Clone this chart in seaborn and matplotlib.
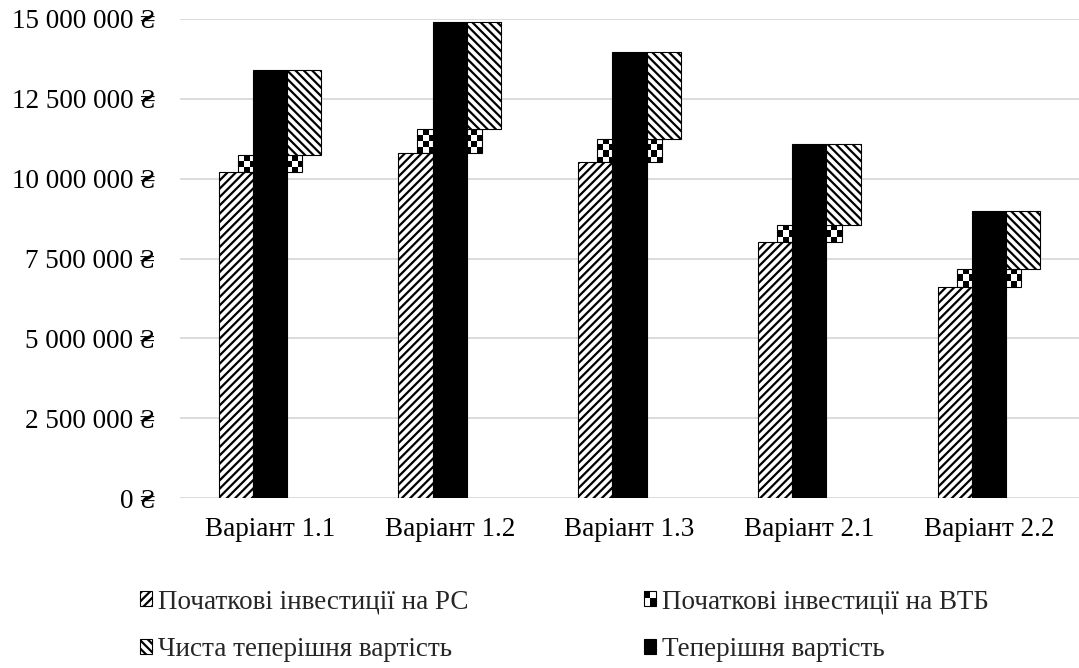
import numpy as np
import pandas as pd
import matplotlib
matplotlib.use("Agg")
import matplotlib.pyplot as plt
import seaborn as sns
from matplotlib.patches import Rectangle, Patch
from matplotlib.legend_handler import HandlerPatch
from matplotlib.ticker import FuncFormatter, MultipleLocator

# ---- data (UAH) ----
variants = ["Варіант 1.1", "Варіант 1.2", "Варіант 1.3", "Варіант 2.1", "Варіант 2.2"]
invest_pc = [10_210_000, 10_800_000, 10_510_000, 8_010_000, 6_600_000]
invest_vtb = [530_000, 750_000, 730_000, 540_000, 570_000]
npv = [2_660_000, 3_350_000, 2_740_000, 2_530_000, 1_830_000]
present_value = [13_400_000, 14_900_000, 13_980_000, 11_080_000, 9_000_000]

lbl_pc = "Початкові інвестиції на РС"
lbl_vtb = "Початкові інвестиції на ВТБ"
lbl_npv = "Чиста теперішня вартість"
lbl_pv = "Теперішня вартість"

sns.set_theme(style="white")
plt.rcParams["font.family"] = ["Liberation Serif", "DejaVu Serif"]
plt.rcParams["hatch.linewidth"] = 1.6
FS = 19.5

fig = plt.figure(figsize=(10.79, 6.68), dpi=100)
ax = fig.add_axes([180 / 1079, 1 - 498 / 668, 1 - 180 / 1079, (498 - 19) / 668])

df = pd.DataFrame({
    "variant": variants * 3,
    "series": [lbl_pc] * 5 + [lbl_pv] * 5 + [lbl_npv] * 5,
    "value": invest_pc + present_value + npv,
})

sns.barplot(data=df, x="variant", y="value", hue="series",
            hue_order=[lbl_pc, lbl_pv, lbl_npv],
            palette=["white", "black", "white"], width=0.57,
            edgecolor="black", linewidth=0.8, saturation=1,
            legend=False, ax=ax)

# hatching and floating NPV segments on top of both investments
for p in ax.containers[0]:
    p.set_hatch("////")
for i, p in enumerate(ax.containers[2]):
    p.set_hatch("\\\\\\\\")
    p.set_y(invest_pc[i] + invest_vtb[i])
    p.set_height(npv[i])

ax.set_xlim(-0.5, 4.5)
ax.set_ylim(0, 15_000_000)

# checkerboard segments for the ВТБ investment (behind the black bar)
bbox = ax.get_window_extent()
sq = 6.0
cell_x = sq * 5.0 / bbox.width
cell_y = sq * 15_000_000 / bbox.height
vtb_w = 0.36
for i in range(len(variants)):
    x0 = i - vtb_w / 2
    y0 = invest_pc[i]
    h = invest_vtb[i]
    clip = Rectangle((x0, y0), vtb_w, h, facecolor="white", edgecolor="none", zorder=0.7)
    ax.add_patch(clip)
    nx = int(np.ceil(vtb_w / cell_x))
    ny = int(np.ceil(h / cell_y))
    board = np.indices((ny, nx)).sum(axis=0) % 2
    im = ax.imshow(board, cmap="binary", origin="upper",
                   extent=[x0, x0 + nx * cell_x, y0 + h - ny * cell_y, y0 + h],
                   aspect="auto", interpolation="nearest", zorder=0.8)
    im.set_clip_path(clip)
    ax.add_patch(Rectangle((x0, y0), vtb_w, h, facecolor="none",
                           edgecolor="black", lw=0.8, zorder=0.9))

ax.set_xlim(-0.5, 4.5)
ax.set_ylim(0, 15_000_000)
ax.yaxis.set_major_locator(MultipleLocator(2_500_000))
ax.yaxis.set_major_formatter(FuncFormatter(lambda v, _: f"{v:,.0f}".replace(",", " ") + " ₴"))
ax.yaxis.grid(True, color="#d9d9d9", lw=1.3)
ax.set_axisbelow(True)
for s in ax.spines.values():
    s.set_visible(False)
ax.tick_params(axis="both", length=0, labelsize=FS, colors="black")
ax.tick_params(axis="y", pad=18)
ax.tick_params(axis="x", pad=14)
ax.set_xlabel("")
ax.set_ylabel("")


class CheckerHandler(HandlerPatch):
    def create_artists(self, legend, orig_handle, xdescent, ydescent,
                       width, height, fontsize, trans):
        x0, y0 = -xdescent, -ydescent
        base = Rectangle((x0, y0), width, height, facecolor="white",
                         edgecolor="black", lw=0.8, transform=trans)
        q1 = Rectangle((x0, y0 + height / 2), width / 2, height / 2,
                       facecolor="black", lw=0, transform=trans)
        q2 = Rectangle((x0 + width / 2, y0), width / 2, height / 2,
                       facecolor="black", lw=0, transform=trans)
        return [base, q1, q2]


h_pc = Patch(facecolor="white", edgecolor="black", hatch="////", lw=0.8)
h_vtb = Patch(facecolor="white", edgecolor="black", lw=0.8)
h_npv = Patch(facecolor="white", edgecolor="black", hatch="\\\\\\\\", lw=0.8)
h_pv = Patch(facecolor="black", edgecolor="black", lw=0.8)

fig.legend([h_pc, h_npv, h_vtb, h_pv], [lbl_pc, lbl_npv, lbl_vtb, lbl_pv],
           handler_map={h_vtb: CheckerHandler()},
           loc="upper left", bbox_to_anchor=(140 / 1079, 1 - 589 / 668),
           ncol=2, frameon=False, fontsize=FS, borderpad=0, borderaxespad=0,
           handlelength=0.45, handleheight=0.45, handletextpad=0.2,
           columnspacing=6.5, labelspacing=0.85)

fig.savefig("out.png", dpi=100)
